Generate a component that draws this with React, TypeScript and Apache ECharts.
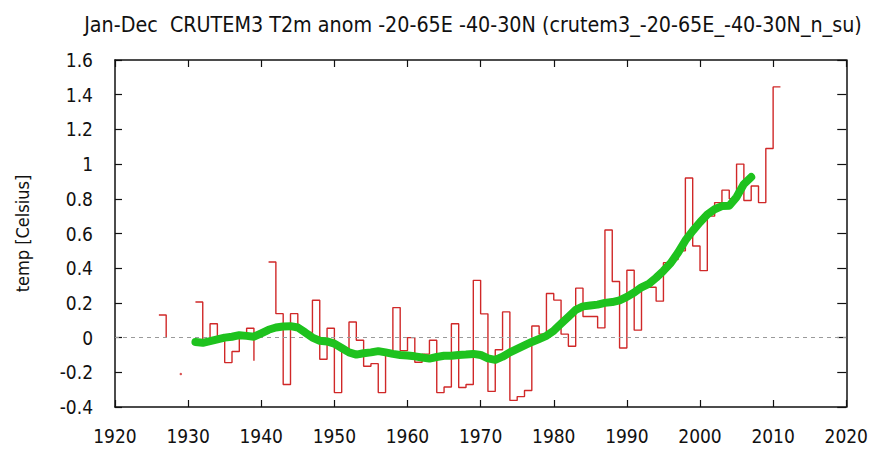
import React, { useEffect, useRef } from "react";
import * as echarts from "echarts";

const TITLE = "Jan-Dec  CRUTEM3 T2m anom -20-65E -40-30N (crutem3_-20-65E_-40-30N_n_su)";
const Y_NAME = "temp [Celsius]";

// Annual anomalies, one value per year starting at ANOM_START (null = no data)
const ANOM_START = 1926;
const anomaly: (number | null)[] = [
  0.13, 0.0, null, -0.21, null, // 1926-1930
  0.205, -0.02, 0.08, 0.0, -0.144, -0.08, 0.02, 0.054, -0.134, null, // 1931-1940
  0.436, 0.138, -0.27, 0.138, 0.05, 0.03, 0.215, -0.125, 0.054, -0.317, // 1941-1950
  -0.07, 0.09, -0.015, -0.165, -0.15, -0.317, -0.09, 0.173, -0.075, 0.0, // 1951-1960
  -0.142, -0.095, -0.015, -0.317, -0.285, 0.08, -0.288, -0.27, 0.33, 0.137, // 1961-1970
  -0.31, -0.07, 0.148, -0.362, -0.34, -0.305, 0.067, 0.02, 0.254, 0.216, // 1971-1980
  0.02, -0.05, 0.285, 0.122, 0.122, 0.056, 0.62, 0.323, -0.06, 0.388, // 1981-1990
  0.043, 0.29, 0.29, 0.21, 0.432, 0.45, 0.5, 0.92, 0.528, 0.386, // 1991-2000
  0.7, 0.778, 0.85, 0.8, 1.0, 0.79, 0.874, 0.778, 1.09, 1.445, // 2001-2010
  1.445, // 2011
];

// Running mean, one value per year starting at SMOOTH_START
const SMOOTH_START = 1931;
const smooth: number[] = [
  -0.025, -0.03, -0.02, -0.01, 0.0, 0.005, 0.014, 0.01, 0.005, 0.025, // 1931-1940
  0.045, 0.058, 0.064, 0.066, 0.058, 0.03, 0.0, -0.018, -0.022, -0.035, // 1941-1950
  -0.06, -0.085, -0.098, -0.09, -0.085, -0.078, -0.085, -0.094, -0.1, -0.103, // 1951-1960
  -0.108, -0.115, -0.121, -0.112, -0.105, -0.105, -0.1, -0.098, -0.094, -0.1, // 1961-1970
  -0.12, -0.128, -0.11, -0.085, -0.065, -0.045, -0.025, -0.008, 0.01, 0.04, // 1971-1980
  0.08, 0.12, 0.16, 0.18, 0.185, 0.19, 0.2, 0.205, 0.215, 0.235, // 1981-1990
  0.26, 0.29, 0.31, 0.345, 0.385, 0.43, 0.49, 0.56, 0.615, 0.665, // 1991-2000
  0.71, 0.74, 0.758, 0.76, 0.81, 0.885, 0.925, // 2001-2007
];

const X_MIN = 1920;
const X_MAX = 2020;
const X_STEP = 10;
const Y_MIN = -0.4;
const Y_MAX = 1.6;
const Y_STEP = 0.2;

const FONT = "'DejaVu Sans Condensed', 'Liberation Sans Narrow', 'DejaVu Sans', sans-serif";
const INK = "#111";
const RED = "#d02828";

// gnuplot-style "steps": each value runs flat to the next year, then jumps.
// Runs are separated by nulls so gaps stay open; lone years become dots.
function stepPath(start: number, vals: (number | null)[]) {
  const path: (number | null)[][] = [];
  const dots: number[][] = [];
  let i = 0;
  while (i < vals.length) {
    if (vals[i] === null) { i++; continue; }
    let j = i;
    while (j + 1 < vals.length && vals[j + 1] !== null) j++;
    if (j === i) {
      dots.push([start + i, vals[i] as number]);
    } else {
      for (let k = i; k < j; k++) {
        path.push([start + k, vals[k]]);
        path.push([start + k + 1, vals[k]]);
      }
      path.push([start + j, vals[j]]);
      path.push([start + j, null]);
    }
    i = j + 1;
  }
  return { path, dots };
}

export default function App() {
  const ref = useRef<HTMLDivElement>(null);

  useEffect(() => {
    if (!ref.current) return;
    const chart = echarts.init(ref.current, null, { renderer: "svg" });

    const { path, dots } = stepPath(ANOM_START, anomaly);
    const smoothPts = smooth.map((v, i) => [SMOOTH_START + i, v]);

    const tickStyle = { show: true, inside: true, length: 7, lineStyle: { color: INK, width: 1.2 } };
    const lineStyle = { show: true, onZero: false, lineStyle: { color: INK, width: 1.5 } };
    const label = { color: INK, fontFamily: FONT, fontSize: 19 };

    chart.setOption({
      animation: false,
      backgroundColor: "#fff",
      title: {
        text: TITLE,
        left: 468,
        textAlign: "center",
        top: 9,
        textStyle: { fontFamily: FONT, fontSize: 21.3, fontWeight: "normal", color: INK },
      },
      grid: { left: 115, right: 24, top: 60, bottom: 43 },
      xAxis: [
        {
          type: "value",
          min: X_MIN,
          max: X_MAX,
          interval: X_STEP,
          position: "bottom",
          axisLine: lineStyle,
          axisTick: tickStyle,
          splitLine: { show: false },
          axisLabel: { ...label, margin: 19, formatter: (v: number) => String(v) },
        },
        {
          type: "value",
          min: X_MIN,
          max: X_MAX,
          interval: X_STEP,
          position: "top",
          axisLine: lineStyle,
          axisTick: tickStyle,
          splitLine: { show: false },
          axisLabel: { show: false },
        },
      ],
      yAxis: [
        {
          type: "value",
          min: Y_MIN,
          max: Y_MAX,
          interval: Y_STEP,
          position: "left",
          axisLine: lineStyle,
          axisTick: tickStyle,
          splitLine: { show: false },
          axisLabel: { ...label, margin: 22 },
          name: Y_NAME,
          nameLocation: "middle",
          nameGap: 84,
          nameRotate: 90,
          nameTextStyle: { ...label, fontSize: 18 },
        },
        {
          type: "value",
          min: Y_MIN,
          max: Y_MAX,
          interval: Y_STEP,
          position: "right",
          axisLine: lineStyle,
          axisTick: { ...tickStyle, length: 9 },
          splitLine: { show: false },
          axisLabel: { show: false },
        },
      ],
      series: [
        {
          type: "line",
          xAxisIndex: 0,
          yAxisIndex: 0,
          data: path,
          connectNulls: false,
          showSymbol: false,
          lineStyle: { color: RED, width: 1.4 },
          z: 2,
          markLine: {
            silent: true,
            symbol: "none",
            label: { show: false },
            lineStyle: { color: "#9a9a9a", width: 1, type: [4, 4] },
            data: [{ yAxis: 0 }],
          },
        },
        {
          type: "scatter",
          xAxisIndex: 0,
          yAxisIndex: 0,
          data: dots,
          symbolSize: 2.5,
          itemStyle: { color: RED },
          z: 2,
        },
        {
          type: "line",
          xAxisIndex: 0,
          yAxisIndex: 0,
          data: smoothPts,
          showSymbol: false,
          smooth: false,
          lineStyle: { color: "#1ec21e", width: 8, cap: "round", join: "round" },
          z: 5,
        },
      ],
    });

    return () => chart.dispose();
  }, []);

  return (
    <div
      ref={ref}
      style={{ position: "fixed", left: 0, top: 0, width: 871, height: 450, background: "#fff" }}
    />
  );
}
